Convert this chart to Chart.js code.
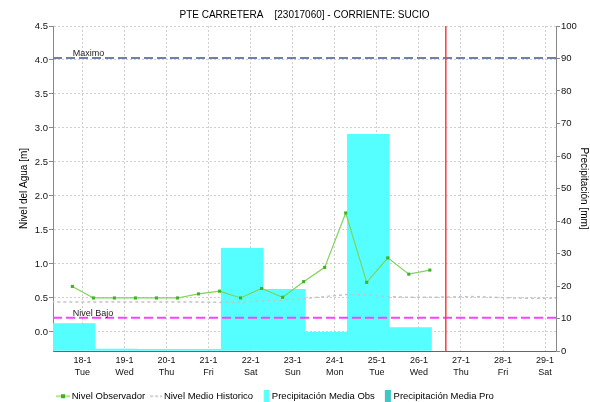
<!DOCTYPE html>
<html>
<head>
<meta charset="utf-8">
<script src="https://cdn.jsdelivr.net/npm/chart.js@4.4.1/dist/chart.umd.min.js"></script>
<style>
  html, body { margin: 0; padding: 0; background: #fff; }
  canvas { display: block; }
</style>
</head>
<body>
<canvas id="nivelChart" width="590" height="402"></canvas>
<script>
// x axis in days, 0 = left edge of the plot (start of the 18-1 rain bar)
const dayTicks = [0.7, 1.7, 2.7, 3.7, 4.7, 5.7, 6.7, 7.7, 8.7, 9.7, 10.7, 11.7];
const dayLabels = [
  ['18-1', 'Tue'], ['19-1', 'Wed'], ['20-1', 'Thu'], ['21-1', 'Fri'],
  ['22-1', 'Sat'], ['23-1', 'Sun'], ['24-1', 'Mon'], ['25-1', 'Tue'],
  ['26-1', 'Wed'], ['27-1', 'Thu'], ['28-1', 'Fri'], ['29-1', 'Sat']
];
const xMax = 11.96;

const levelTicks = [0, 0.5, 1, 1.5, 2, 2.5, 3, 3.5, 4, 4.5];

// Nivel Observador (m)
const obsX = [0.46, 0.96, 1.46, 1.96, 2.46, 2.96, 3.46, 3.96, 4.46, 4.96, 5.46, 5.96, 6.46, 6.96, 7.46, 7.96, 8.46, 8.96];
const obsY = [0.67, 0.50, 0.50, 0.50, 0.50, 0.50, 0.56, 0.60, 0.50, 0.64, 0.51, 0.74, 0.95, 1.75, 0.73, 1.09, 0.85, 0.91];

// Nivel Medio Historico (m)
const histX = [-0.04, 0.46, 0.96, 1.46, 1.96, 2.46, 2.96, 3.46, 3.96, 4.46, 4.96, 5.46, 5.96, 6.46, 6.96, 7.46, 7.96, 8.46, 8.96, 9.46, 9.96, 10.46, 10.96, 11.46, 11.96];
const histY = [0.44, 0.44, 0.44, 0.44, 0.44, 0.44, 0.44, 0.44, 0.435, 0.44, 0.455, 0.47, 0.49, 0.52, 0.55, 0.545, 0.52, 0.51, 0.51, 0.515, 0.52, 0.51, 0.50, 0.495, 0.495];

// Precipitacion diaria (mm)
const rainX = [0.5, 1.5, 2.5, 3.5, 4.5, 5.5, 6.5, 7.5, 8.5];
const rainObs = [8.4, 0.6, 0.5, 0.5, 31.6, 19.0, 5.8, 66.7, 7.2];
const rainPro = [];

const maximoNivel = 4.03;
const bajoNivel = 0.21;
const ahoraX = 9.34;
const umbralLabelX = 0.47;

const FONT = '"Liberation Sans", Arial, sans-serif';

function pts(xs, ys) {
  return xs.map((x, i) => ({ x: x, y: ys[i] }));
}

function makeIcon(draw) {
  const c = document.createElement('canvas');
  c.width = 16; c.height = 12;
  draw(c.getContext('2d'));
  return c;
}

const legendIcons = [
  makeIcon(ctx => {
    ctx.strokeStyle = '#7fd35a'; ctx.lineWidth = 1.2;
    ctx.beginPath(); ctx.moveTo(2, 6); ctx.lineTo(16, 6); ctx.stroke();
    ctx.fillStyle = '#3cb521'; ctx.fillRect(7, 4, 4, 4);
  }),
  makeIcon(ctx => {
    ctx.strokeStyle = '#c4c4c4'; ctx.lineWidth = 1.5; ctx.setLineDash([3, 2]);
    ctx.beginPath(); ctx.moveTo(4, 6); ctx.lineTo(16, 6); ctx.stroke();
  }),
  makeIcon(ctx => {
    ctx.fillStyle = '#55ffff'; ctx.fillRect(9, 0, 6, 12);
    ctx.fillStyle = '#c8ffff'; ctx.fillRect(9, 0, 1, 12);
  }),
  makeIcon(ctx => {
    ctx.fillStyle = '#40c6c6'; ctx.fillRect(9, 0, 6, 12);
  })
];

const umbrales = [
  { text: 'Maximo', value: maximoNivel },
  { text: 'Nivel Bajo', value: bajoNivel }
];

const umbralLabels = {
  id: 'umbralLabels',
  afterDatasetsDraw(chart) {
    const { ctx, scales: { x, y } } = chart;
    ctx.save();
    ctx.font = '9px ' + FONT;
    ctx.fillStyle = '#222';
    ctx.textBaseline = 'alphabetic';
    umbrales.forEach(u => {
      ctx.fillText(u.text, x.getPixelForValue(umbralLabelX), y.getPixelForValue(u.value) - 2);
    });
    ctx.restore();
  }
};

new Chart(document.getElementById('nivelChart'), {
  type: 'bar',
  data: {
    datasets: [
      {
        type: 'line', label: 'Nivel Observador', data: pts(obsX, obsY), yAxisID: 'y',
        borderColor: '#7fd35a', borderWidth: 1.2, pointStyle: 'rect', pointRadius: 2.2,
        pointBackgroundColor: '#3cb521', pointBorderWidth: 0, order: 1
      },
      {
        type: 'line', label: 'Nivel Medio Historico', data: pts(histX, histY), yAxisID: 'y',
        borderColor: '#c4c4c4', borderWidth: 1.5, borderDash: [3, 3], pointRadius: 0, order: 3
      },
      {
        type: 'line', label: 'Maximo', data: [{ x: 0, y: maximoNivel }, { x: xMax, y: maximoNivel }], yAxisID: 'y',
        borderColor: '#6f7fb0', borderWidth: 2, borderDash: [9, 4], pointRadius: 0, order: 2
      },
      {
        type: 'line', label: 'Nivel Bajo', data: [{ x: 0, y: bajoNivel }, { x: xMax, y: bajoNivel }], yAxisID: 'y',
        borderColor: '#ff40ff', borderWidth: 2, borderDash: [9, 4], pointRadius: 0, order: 2
      },
      {
        type: 'line', label: 'Ahora', data: [{ x: ahoraX, y: -0.28 }, { x: ahoraX, y: 4.5 }], yAxisID: 'y',
        borderColor: '#ff3b3b', borderWidth: 1.5, pointRadius: 0, order: 0
      },
      {
        label: 'Precipitación Media Obs', data: pts(rainX, rainObs), yAxisID: 'y1', stack: 'p',
        backgroundColor: '#55ffff', borderWidth: 0, barPercentage: 1, categoryPercentage: 1, order: 10
      },
      {
        label: 'Precipitación Media Pro', data: pts([], rainPro), yAxisID: 'y1', stack: 'p',
        backgroundColor: '#40c6c6', borderWidth: 0, barPercentage: 1, categoryPercentage: 1, order: 10
      }
    ]
  },
  options: {
    responsive: false,
    animation: false,
    devicePixelRatio: 1,
    layout: { padding: { left: 0, right: 0, top: 0, bottom: -9 } },
    plugins: {
      tooltip: { enabled: false },
      title: {
        display: true, fullSize: false,
        text: 'PTE CARRETERA    [23017060] - CORRIENTE: SUCIO',
        font: { size: 10, family: FONT, weight: 'normal' }, color: '#000',
        padding: { top: 9, bottom: 5 }
      },
      legend: {
        position: 'bottom', align: 'start', fullSize: false,
        labels: {
          usePointStyle: true, pointStyleWidth: 10, padding: 4,
          font: { size: 9.5, family: FONT }, color: '#000',
          generateLabels: chart => ['Nivel Observador', 'Nivel Medio Historico', 'Precipitación Media Obs', 'Precipitación Media Pro']
            .map((name, i) => ({
              text: name, pointStyle: legendIcons[i], fontColor: '#000', hidden: false,
              lineWidth: 0, strokeStyle: 'rgba(0,0,0,0)', fillStyle: 'rgba(0,0,0,0)',
              datasetIndex: chart.data.datasets.findIndex(d => d.label === name)
            }))
        }
      }
    },
    scales: {
      x: {
        type: 'linear', min: 0, max: xMax, offset: false,
        afterBuildTicks: s => { s.ticks = dayTicks.map(v => ({ value: v })); },
        afterFit: s => { s.height = 36.5; },
        ticks: {
          callback: (v, i) => dayLabels[i], autoSkip: false, maxRotation: 0,
          font: { size: 9, family: FONT, lineHeight: 1.3 }, color: '#111', padding: 4
        },
        grid: { color: '#cfcfcf', drawTicks: false, offset: false },
        border: { color: '#666', dash: [2, 2] }
      },
      y: {
        type: 'linear', position: 'left', min: -0.28, max: 4.5,
        afterBuildTicks: s => { s.ticks = levelTicks.map(v => ({ value: v })); },
        afterFit: s => { s.width = 53; },
        ticks: { callback: v => v.toFixed(1), font: { size: 9.5, family: FONT }, color: '#111', padding: 1 },
        grid: { color: '#cfcfcf', tickColor: '#888', tickLength: 4 },
        border: { color: '#888', dash: [2, 2] },
        title: {
          display: true, text: 'Nivel del Agua [m]', color: '#000',
          font: { size: 10, family: FONT }, padding: { top: 18, bottom: 0 }
        }
      },
      y1: {
        type: 'linear', position: 'right', min: 0, max: 100,
        afterFit: s => { s.width = 34; },
        ticks: { stepSize: 10, font: { size: 9.5, family: FONT }, color: '#111', padding: 1 },
        grid: { drawOnChartArea: false, tickColor: '#888', tickLength: 4 },
        border: { color: '#888' },
        title: {
          display: true, text: 'Precipitación [mm]', color: '#000',
          font: { size: 10, family: FONT }, padding: { top: 0, bottom: 0 }
        }
      }
    }
  },
  plugins: [umbralLabels]
});
</script>
</body>
</html>
